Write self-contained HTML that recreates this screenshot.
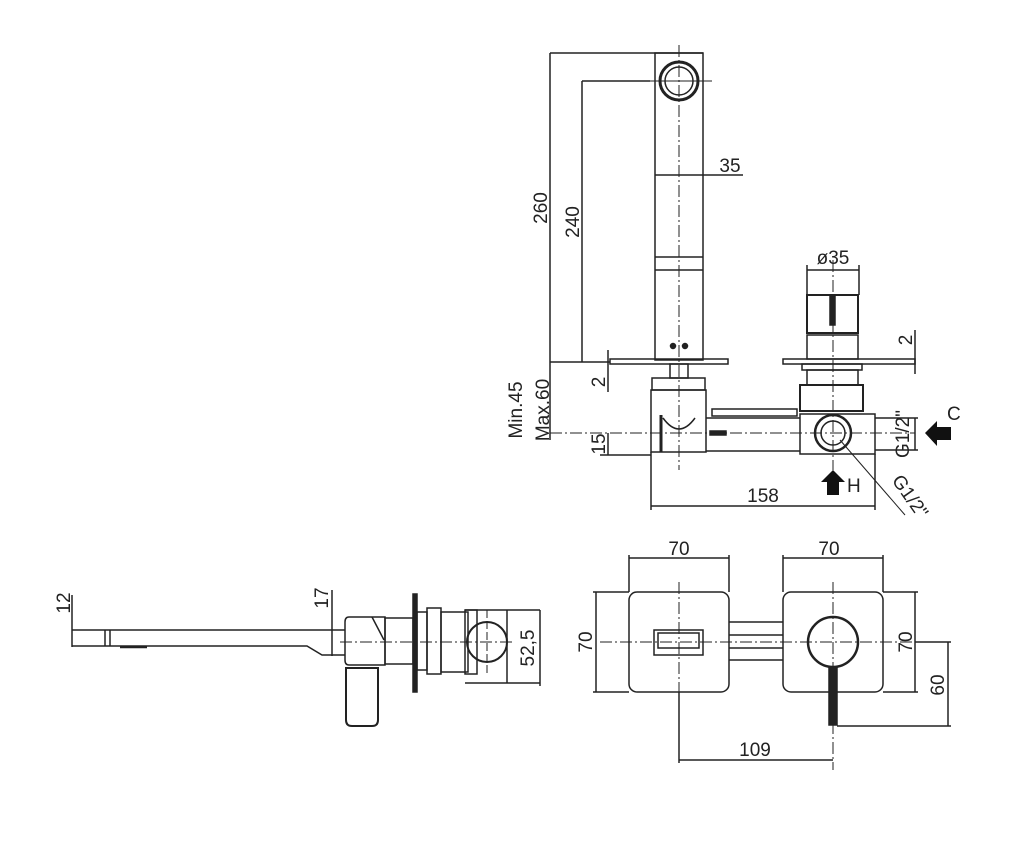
<!DOCTYPE html>
<html><head><meta charset="utf-8"><style>
html,body{margin:0;padding:0;background:#fff;}
svg{display:block}
text{font-family:"Liberation Sans",sans-serif;font-size:19px;fill:#222}
</style></head><body>
<svg width="1024" height="868" viewBox="0 0 1024 868" xmlns="http://www.w3.org/2000/svg">
<rect width="1024" height="868" fill="#fff"/>
<g stroke="#222" stroke-width="1.5" fill="none">
<!-- TOP VIEW: spout -->
<rect x="655" y="53" width="48" height="307"/>
<circle cx="679" cy="81" r="19" stroke-width="3"/>
<circle cx="679" cy="81" r="14"/>
<line x1="655" y1="257" x2="703" y2="257"/>
<line x1="655" y1="270" x2="703" y2="270"/>
<line x1="679" y1="45" x2="679" y2="470" stroke-dasharray="12,3,2,3" stroke-width="1"/>
<line x1="645" y1="81" x2="712" y2="81" stroke-width="1"/>
<circle cx="673" cy="346" r="2.5" fill="#222"/><circle cx="685" cy="346" r="2.5" fill="#222"/>
<!-- dims 260/240 -->
<line x1="550" y1="53" x2="703" y2="53"/>
<line x1="550" y1="53" x2="550" y2="440"/>
<line x1="582" y1="81" x2="650" y2="81"/>
<line x1="582" y1="81" x2="582" y2="362"/>
<line x1="550" y1="362" x2="610" y2="362"/>
<line x1="655" y1="175" x2="743" y2="175"/>
<!-- plates -->
<rect x="610" y="359" width="118" height="5"/>
<rect x="783" y="359" width="132" height="5"/>
<line x1="608" y1="350" x2="608" y2="392"/>
<line x1="915" y1="330" x2="915" y2="374"/>
<!-- left body -->
<rect x="670" y="364" width="18" height="14"/>
<rect x="652" y="378" width="53" height="12"/>
<rect x="651" y="390" width="55" height="62"/>
<path d="M663 418 Q679 440 695 418" />
<line x1="661" y1="415" x2="661" y2="452" stroke-width="3"/>
<rect x="712" y="409" width="85" height="7"/>
<line x1="706" y1="418" x2="800" y2="418"/>
<line x1="706" y1="451" x2="800" y2="451"/>
<rect x="710" y="431" width="16" height="4" fill="#222"/>
<!-- right valve -->
<line x1="807" y1="270" x2="859" y2="270"/>
<line x1="807" y1="265" x2="807" y2="295"/><line x1="859" y1="265" x2="859" y2="295"/>
<rect x="807" y="295" width="51" height="38" stroke-width="2"/>
<rect x="830" y="295" width="5" height="30" fill="#222"/>
<rect x="807" y="335" width="51" height="24"/>
<rect x="802" y="364" width="60" height="6"/>
<rect x="807" y="370" width="51" height="15"/>
<rect x="800" y="385" width="63" height="26" stroke-width="2"/>
<rect x="800" y="414" width="75" height="40"/>
<circle cx="833" cy="433" r="18" stroke-width="2.5"/>
<circle cx="833" cy="433" r="12"/>
<line x1="833" y1="260" x2="833" y2="470" stroke-dasharray="12,3,2,3" stroke-width="1"/>
<line x1="550" y1="433" x2="915" y2="433" stroke-dasharray="12,3,2,3" stroke-width="1"/>
<!-- dims lower -->
<line x1="608" y1="433" x2="608" y2="455"/>
<line x1="600" y1="455" x2="651" y2="455"/>
<line x1="651" y1="452" x2="651" y2="510"/>
<line x1="875" y1="454" x2="875" y2="510"/>
<line x1="651" y1="506" x2="875" y2="506"/>
<line x1="875" y1="418" x2="918" y2="418"/>
<line x1="875" y1="450" x2="918" y2="450"/>
<line x1="915" y1="418" x2="915" y2="450"/>
<line x1="840" y1="440" x2="905" y2="515" stroke-width="1"/>
</g>
<polygon points="925,433 937,421 937,427 951,427 951,440 937,440 937,446" fill="#111"/>
<polygon points="833,470 821,482 827,482 827,495 839,495 839,482 845,482" fill="#111"/>
<g>
<text transform="translate(547,208) rotate(-90)" text-anchor="middle" font-size="20">260</text>
<text transform="translate(579,222) rotate(-90)" text-anchor="middle" font-size="20">240</text>
<text x="730" y="172" text-anchor="middle" font-size="20">35</text>
<text x="833" y="264" text-anchor="middle" font-size="19">ø35</text>
<text transform="translate(912,340) rotate(-90)" text-anchor="middle">2</text>
<text transform="translate(605,382) rotate(-90)" text-anchor="middle">2</text>
<text transform="translate(522,410) rotate(-90)" text-anchor="middle" font-size="20">Min.45</text>
<text transform="translate(549,410) rotate(-90)" text-anchor="middle" font-size="20">Max.60</text>
<text transform="translate(605,444) rotate(-90)" text-anchor="middle">15</text>
<text transform="translate(909,434) rotate(-90)" text-anchor="middle">G1/2"</text>
<text x="947" y="420" font-size="19">C</text>
<text x="847" y="492" font-size="19">H</text>
<text x="763" y="502" text-anchor="middle" font-size="20">158</text>
<text transform="translate(905,500) rotate(55)" text-anchor="middle">G1/2"</text>
</g>
<!-- BOTTOM LEFT side view -->
<g stroke="#222" stroke-width="1.5" fill="none">
<line x1="72" y1="595" x2="72" y2="647"/>
<line x1="332" y1="590" x2="332" y2="656"/>
<path d="M72 630 L345 630 M72 646 L307 646 L322 655 L345 655"/>
<line x1="105" y1="630" x2="105" y2="646"/><line x1="110" y1="630" x2="110" y2="646"/>
<line x1="120" y1="647" x2="147" y2="647" stroke-width="2.5"/>
<path d="M349 617 L385 617 L385 665 L349 665 Q345 665 345 660 L345 622 Q345 617 349 617Z"/>
<path d="M346 668 L378 668 L378 720 Q378 726 372 726 L352 726 Q346 726 346 720Z" stroke-width="2"/>
<line x1="372" y1="617" x2="384" y2="640"/>
<rect x="385" y="618" width="28" height="46"/>
<rect x="413" y="594" width="4" height="98" fill="#222"/>
<rect x="417" y="612" width="10" height="58"/>
<rect x="427" y="608" width="14" height="66"/>
<rect x="441" y="612" width="27" height="60"/>
<rect x="465" y="610" width="12" height="64"/>
<circle cx="487" cy="642" r="20" stroke-width="2"/>
<line x1="465" y1="610" x2="540" y2="610"/><line x1="465" y1="683" x2="540" y2="683"/>
<line x1="507" y1="610" x2="507" y2="683"/>
<line x1="540" y1="610" x2="540" y2="686"/>
<line x1="340" y1="642" x2="515" y2="642" stroke-dasharray="12,3,2,3" stroke-width="1"/>
<line x1="487" y1="610" x2="487" y2="675" stroke-dasharray="8,3" stroke-width="1"/>
</g>
<text transform="translate(70,603) rotate(-90)" text-anchor="middle">12</text>
<text transform="translate(328,598) rotate(-90)" text-anchor="middle">17</text>
<text transform="translate(534,648) rotate(-90)" text-anchor="middle">52,5</text>
<!-- BOTTOM RIGHT front view -->
<g stroke="#222" stroke-width="1.5" fill="none">
<rect x="629" y="592" width="100" height="100" rx="8"/>
<rect x="783" y="592" width="100" height="100" rx="8"/>
<line x1="629" y1="558" x2="729" y2="558"/><line x1="783" y1="558" x2="883" y2="558"/>
<line x1="629" y1="555" x2="629" y2="592"/><line x1="729" y1="555" x2="729" y2="592"/>
<line x1="783" y1="555" x2="783" y2="592"/><line x1="883" y1="555" x2="883" y2="592"/>
<line x1="593" y1="592" x2="629" y2="592"/><line x1="593" y1="692" x2="629" y2="692"/>
<line x1="596" y1="592" x2="596" y2="692"/>
<line x1="883" y1="592" x2="918" y2="592"/><line x1="883" y1="692" x2="918" y2="692"/>
<line x1="915" y1="592" x2="915" y2="692"/>
<line x1="915" y1="642" x2="951" y2="642"/>
<line x1="837" y1="726" x2="951" y2="726"/>
<line x1="948" y1="642" x2="948" y2="726"/>
<line x1="679" y1="692" x2="679" y2="763"/>
<line x1="679" y1="760" x2="833" y2="760"/>
<rect x="654" y="630" width="49" height="25"/>
<rect x="658" y="633" width="41" height="15"/>
<line x1="729" y1="622" x2="783" y2="622"/><line x1="729" y1="635" x2="783" y2="635"/>
<line x1="729" y1="648" x2="783" y2="648"/><line x1="729" y1="660" x2="783" y2="660"/>
<circle cx="833" cy="642" r="25" stroke-width="2.5"/>
<rect x="829" y="667" width="8" height="58" fill="#222"/>
<line x1="600" y1="642" x2="940" y2="642" stroke-dasharray="12,3,2,3" stroke-width="1"/>
<line x1="679" y1="582" x2="679" y2="692" stroke-dasharray="12,3,2,3" stroke-width="1"/>
<line x1="833" y1="582" x2="833" y2="770" stroke-dasharray="12,3,2,3" stroke-width="1"/>
</g>
<text x="679" y="555" text-anchor="middle">70</text>
<text x="829" y="555" text-anchor="middle">70</text>
<text transform="translate(592,642) rotate(-90)" text-anchor="middle">70</text>
<text transform="translate(912,642) rotate(-90)" text-anchor="middle">70</text>
<text transform="translate(944,685) rotate(-90)" text-anchor="middle">60</text>
<text x="755" y="756" text-anchor="middle">109</text>
</svg>
</body></html>
